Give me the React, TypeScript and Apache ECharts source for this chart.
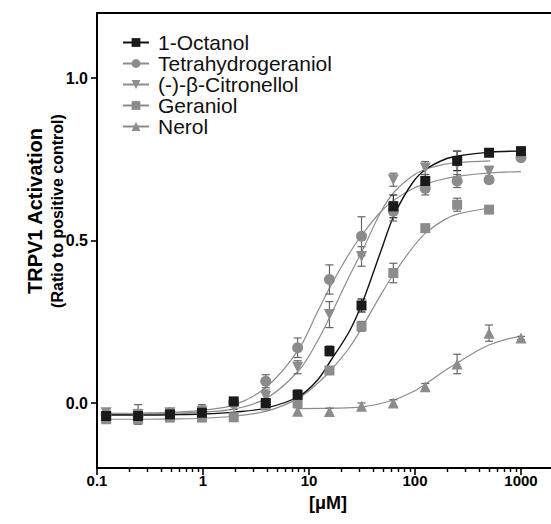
import React, { useEffect, useRef } from "react";
import * as echarts from "echarts";

// ---- data ----
const seriesNames = ["1-Octanol", "Tetrahydrogeraniol", "(-)-β-Citronellol", "Geraniol", "Nerol"];

const conc = [0.122, 0.244, 0.488, 0.977, 1.95, 3.91, 7.81, 15.6, 31.3, 62.5, 125, 250, 500, 1000];
const nerolConc = [7.81, 15.6, 31.3, 62.5, 125, 250, 500, 1000];

const octanolVals = [-0.04, -0.04, -0.035, -0.03, 0.005, 0.0, 0.025, 0.16, 0.3, 0.605, 0.683, 0.745, 0.77, 0.775];
const octanolErr = [0.01, 0.01, 0.01, 0.01, 0.01, 0.01, 0.015, 0.015, 0.02, 0.035, 0.02, 0.03, 0.01, 0.01];

const tetraVals = [-0.035, -0.04, -0.03, -0.03, 0.0, 0.067, 0.17, 0.38, 0.513, 0.59, 0.66, 0.683, 0.687, 0.755];
const tetraErr = [0.01, 0.02, 0.01, 0.02, 0.01, 0.02, 0.03, 0.045, 0.06, 0.03, 0.02, 0.02, 0.01, 0.01];

const citroVals = [-0.03, -0.035, -0.03, -0.025, -0.01, 0.02, 0.11, 0.272, 0.451, 0.687, 0.723, 0.735, 0.713];
const citroErr = [0.01, 0.03, 0.01, 0.02, 0.01, 0.02, 0.02, 0.04, 0.03, 0.02, 0.02, 0.04, 0.015];

const geranVals = [-0.05, -0.05, -0.045, -0.045, -0.044, -0.008, 0.0, 0.1, 0.236, 0.4, 0.538, 0.61, 0.595];
const geranErr = [0.01, 0.015, 0.01, 0.01, 0.01, 0.01, 0.01, 0.01, 0.015, 0.03, 0.01, 0.02, 0.01];

const nerolVals = [-0.025, -0.026, -0.01, 0.0, 0.05, 0.12, 0.215, 0.2];
const nerolErr = [0.01, 0.01, 0.01, 0.01, 0.01, 0.03, 0.025, 0.005];

// fitted curves at these concentrations
const curveX = [0.12, 0.25, 0.5, 1, 2, 4, 8, 12, 16, 24, 32, 48, 64, 96, 128, 192, 256, 512, 1000];
const octanolFit = [-0.037, -0.037, -0.036, -0.034, -0.028, -0.015, 0.02, 0.07, 0.13, 0.22, 0.31, 0.47, 0.58, 0.68, 0.72, 0.75, 0.76, 0.772, 0.775];
const tetraFit = [-0.032, -0.031, -0.029, -0.022, -0.005, 0.05, 0.165, 0.28, 0.36, 0.46, 0.52, 0.59, 0.625, 0.66, 0.675, 0.69, 0.698, 0.708, 0.712];
const citroFit = [-0.035, -0.034, -0.032, -0.028, -0.018, 0.015, 0.1, 0.19, 0.27, 0.39, 0.47, 0.59, 0.65, 0.7, 0.72, 0.735, 0.74, 0.745];
const geranFit = [-0.05, -0.05, -0.049, -0.047, -0.04, -0.025, 0.015, 0.06, 0.1, 0.17, 0.235, 0.335, 0.4, 0.48, 0.525, 0.565, 0.582, 0.6];
const nerolCurveX = [8, 16, 32, 64, 96, 128, 192, 256, 384, 512, 768, 1000];
const nerolFit = [-0.017, -0.016, -0.012, 0.01, 0.035, 0.06, 0.1, 0.125, 0.16, 0.18, 0.198, 0.205];

const xMajorTicks = [0.1, 1, 10, 100, 1000];
const xMinorTicks = [
  0.2, 0.3, 0.4, 0.5, 0.6, 0.7, 0.8, 0.9,
  2, 3, 4, 5, 6, 7, 8, 9,
  20, 30, 40, 50, 60, 70, 80, 90,
  200, 300, 400, 500, 600, 700, 800, 900,
];
const yTicks = [0, 0.5, 1.0];

// ---- helpers ----
const pairs = (xs: number[], ys: number[]) => ys.map((y, i) => [xs[i], y]);
const triples = (xs: number[], ys: number[], es: number[]) => ys.map((y, i) => [xs[i], y, es[i]]);

const FONT = "'Liberation Sans', Arial, sans-serif";
const BLACK = "#1a1a1a";
const GRAY = "#8c8c8c";

const styles = [
  { color: BLACK, line: "#111", symbol: "rect", rotate: 0, size: 10 },
  { color: GRAY, line: GRAY, symbol: "circle", rotate: 0, size: 11 },
  { color: GRAY, line: GRAY, symbol: "triangle", rotate: 180, size: 11 },
  { color: GRAY, line: GRAY, symbol: "rect", rotate: 0, size: 10 },
  { color: GRAY, line: GRAY, symbol: "triangle", rotate: 0, size: 11 },
];

export default function App() {
  const ref = useRef<HTMLDivElement>(null);

  useEffect(() => {
    if (!ref.current) return;
    const chart = echarts.init(ref.current, undefined, { renderer: "svg" });

    const fits = [
      pairs(curveX, octanolFit),
      pairs(curveX, tetraFit),
      pairs(curveX, citroFit),
      pairs(curveX, geranFit),
      pairs(nerolCurveX, nerolFit),
    ];
    const points = [
      triples(conc, octanolVals, octanolErr),
      triples(conc, tetraVals, tetraErr),
      triples(conc, citroVals, citroErr),
      triples(conc, geranVals, geranErr),
      triples(nerolConc, nerolVals, nerolErr),
    ];

    const lineSeries: any[] = seriesNames.map((name, i) => ({
      name,
      type: "line",
      xAxisIndex: 0,
      yAxisIndex: 0,
      data: fits[i],
      smooth: 0.35,
      showSymbol: false,
      symbol: styles[i].symbol,
      symbolRotate: styles[i].rotate,
      symbolSize: styles[i].size,
      itemStyle: { color: styles[i].color },
      lineStyle: { color: styles[i].line, width: i === 0 ? 1.4 : 1.2 },
      z: i === 0 ? 4 : 3,
      silent: true,
    }));

    const errSeries: any[] = points.map((pts, i) => ({
      name: seriesNames[i] + " err",
      type: "custom",
      xAxisIndex: 0,
      yAxisIndex: 0,
      data: pts,
      z: 5,
      silent: true,
      renderItem: (params: any, api: any) => {
        const x = api.value(0);
        const y = api.value(1);
        const e = api.value(2);
        const top = api.coord([x, y + e]);
        const bot = api.coord([x, y - e]);
        const w = 4;
        const st = { stroke: i === 0 ? "#222" : "#666", lineWidth: 1.2 };
        return {
          type: "group",
          children: [
            { type: "line", shape: { x1: top[0], y1: top[1], x2: bot[0], y2: bot[1] }, style: st },
            { type: "line", shape: { x1: top[0] - w, y1: top[1], x2: top[0] + w, y2: top[1] }, style: st },
            { type: "line", shape: { x1: bot[0] - w, y1: bot[1], x2: bot[0] + w, y2: bot[1] }, style: st },
          ],
        };
      },
    }));

    const pointSeries: any[] = points.map((pts, i) => ({
      name: seriesNames[i] + " pts",
      type: "scatter",
      xAxisIndex: 0,
      yAxisIndex: 0,
      data: pts.map((p) => [p[0], p[1]]),
      symbol: styles[i].symbol,
      symbolRotate: styles[i].rotate,
      symbolSize: styles[i].size,
      itemStyle: { color: styles[i].color, opacity: 1 },
      z: i === 0 ? 7 : 6,
      silent: true,
    }));

    const option: any = {
      animation: false,
      backgroundColor: "#ffffff",
      grid: { left: 97, right: 0, top: 13, bottom: 56, containLabel: false },
      legend: {
        data: seriesNames,
        orient: "vertical",
        left: 117,
        top: 27,
        itemWidth: 26,
        itemHeight: 11,
        itemGap: 0,
        textStyle: { fontFamily: FONT, fontSize: 21, color: "#111", lineHeight: 21, padding: [0, 0, 0, 4] },
        selectedMode: false,
      },
      xAxis: [
        {
          type: "log",
          logBase: 10,
          min: 0.1,
          max: 1920,
          position: "bottom",
          axisLine: { show: true, onZero: false, lineStyle: { color: "#000", width: 2 } },
          axisTick: { show: true, customValues: xMajorTicks, length: 7, lineStyle: { color: "#000", width: 1.6 } },
          axisLabel: {
            customValues: xMajorTicks,
            margin: 5,
            fontFamily: FONT,
            fontSize: 15,
            fontWeight: "bold",
            color: "#000",
            formatter: (v: number) => String(Number(Number(v).toPrecision(6))),
          },
          splitLine: { show: false },
          minorTick: { show: false },
        },
        {
          type: "log",
          logBase: 10,
          min: 0.1,
          max: 1920,
          position: "bottom",
          axisLine: { show: false, onZero: false },
          axisTick: { show: true, customValues: xMinorTicks, length: 4, lineStyle: { color: "#000", width: 1.4 } },
          axisLabel: { show: false },
          splitLine: { show: false },
        },
        {
          type: "value",
          min: 0,
          max: 1,
          position: "top",
          axisLine: { show: true, onZero: false, lineStyle: { color: "#000", width: 2 } },
          axisTick: { show: false },
          axisLabel: { show: false },
          splitLine: { show: false },
        },
      ],
      yAxis: [
        {
          type: "value",
          min: -0.2,
          max: 1.2,
          interval: 0.1,
          position: "left",
          axisLine: { show: true, onZero: false, lineStyle: { color: "#000", width: 2 } },
          axisTick: { show: true, customValues: yTicks, length: 6, lineStyle: { color: "#000", width: 1.6 } },
          axisLabel: {
            customValues: yTicks,
            margin: 9,
            fontFamily: FONT,
            fontSize: 16,
            fontWeight: "bold",
            color: "#000",
            formatter: (v: number) => Number(v).toFixed(1),
          },
          splitLine: { show: false },
        },
      ],
      graphic: [
        {
          type: "text",
          x: 35,
          y: 211,
          rotation: Math.PI / 2,
          style: {
            text: "TRPV1 Activation",
            fontFamily: FONT,
            fontSize: 20,
            fontWeight: "bold",
            fill: "#000",
            align: "center",
            verticalAlign: "middle",
          },
        },
        {
          type: "text",
          x: 57,
          y: 211,
          rotation: Math.PI / 2,
          style: {
            text: "(Ratio to positive control)",
            fontFamily: FONT,
            fontSize: 16,
            fontWeight: "bold",
            fill: "#000",
            align: "center",
            verticalAlign: "middle",
          },
        },
        {
          type: "text",
          x: 328,
          y: 503,
          style: {
            text: "[μM]",
            fontFamily: FONT,
            fontSize: 18,
            fontWeight: "bold",
            fill: "#000",
            align: "center",
            verticalAlign: "middle",
          },
        },
      ],
      series: [...lineSeries, ...errSeries, ...pointSeries],
    };

    chart.setOption(option);
    return () => chart.dispose();
  }, []);

  return (
    <div
      ref={ref}
      style={{ position: "fixed", left: 0, top: 0, width: 551, height: 524, background: "#fff" }}
    />
  );
}
